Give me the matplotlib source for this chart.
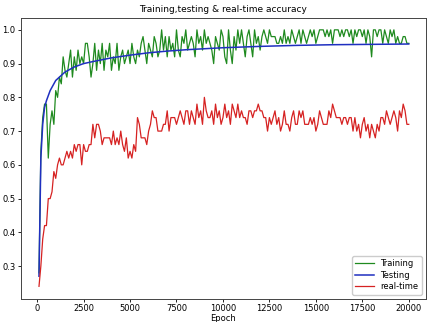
import matplotlib

matplotlib.use("Agg")
import matplotlib.pyplot as plt
import numpy as np

# epochs every 100 for the noisy curves
epochs = np.arange(100, 20001, 100)

train_acc = [
    0.28, 0.64, 0.74, 0.78, 0.78, 0.62, 0.72, 0.76, 0.72, 0.82,
    0.80, 0.86, 0.84, 0.92, 0.88, 0.86, 0.90, 0.94, 0.86, 0.92,
    0.88, 0.94, 0.90, 0.92, 0.90, 0.96, 0.96, 0.92, 0.86, 0.90,
    0.96, 0.88, 0.94, 0.90, 0.96, 0.88, 0.94, 0.92, 0.96, 0.88,
    0.92, 0.90, 0.96, 0.88, 0.92, 0.94, 0.90, 0.92, 0.94, 0.90,
    0.96, 0.92, 0.90, 0.94, 0.92, 0.96, 0.98, 0.94, 0.90, 0.96,
    0.94, 0.92, 0.98, 0.96, 0.92, 0.94, 1.00, 0.94, 0.98, 0.92,
    0.98, 0.94, 0.96, 0.92, 1.00, 0.94, 0.92, 0.98, 0.96, 1.00,
    0.94, 0.96, 0.98, 0.96, 0.92, 1.00, 0.96, 0.98, 0.94, 1.00,
    0.96, 0.98, 0.96, 0.94, 0.90, 0.98, 0.96, 0.94, 1.00, 0.98,
    0.92, 0.90, 1.00, 0.94, 0.90, 0.98, 0.94, 1.00, 0.96, 1.00,
    0.96, 0.92, 0.98, 1.00, 0.96, 0.92, 1.00, 0.96, 0.98, 0.94,
    0.98, 1.00, 0.98, 0.96, 1.00, 0.98, 0.98, 0.98, 0.96, 0.96,
    0.98, 0.96, 1.00, 0.96, 0.98, 0.96, 1.00, 0.98, 0.96, 0.98,
    1.00, 0.96, 1.00, 0.98, 0.96, 0.98, 1.00, 0.98, 1.00, 0.96,
    0.98, 1.00, 1.00, 1.00, 0.98, 1.00, 0.98, 1.00, 0.96, 1.00,
    1.00, 1.00, 0.98, 1.00, 0.98, 1.00, 1.00, 0.98, 1.00, 0.96,
    1.00, 0.98, 1.00, 1.00, 0.98, 1.00, 0.96, 1.00, 0.98, 0.92,
    1.00, 1.00, 0.98, 1.00, 1.00, 0.96, 1.00, 0.98, 0.96, 1.00,
    0.98, 1.00, 0.96, 0.98, 0.96, 0.96, 0.98, 0.98, 0.96, 0.96,
]

realtime_acc = [
    0.24, 0.30, 0.38, 0.42, 0.42, 0.50, 0.50, 0.52, 0.58, 0.56,
    0.60, 0.62, 0.60, 0.60, 0.62, 0.64, 0.62, 0.64, 0.62, 0.66,
    0.64, 0.66, 0.66, 0.60, 0.66, 0.64, 0.64, 0.66, 0.66, 0.72,
    0.68, 0.72, 0.72, 0.70, 0.66, 0.68, 0.68, 0.68, 0.68, 0.66,
    0.70, 0.66, 0.68, 0.66, 0.70, 0.66, 0.64, 0.68, 0.62, 0.64,
    0.62, 0.66, 0.64, 0.74, 0.72, 0.68, 0.68, 0.68, 0.66, 0.70,
    0.72, 0.76, 0.74, 0.74, 0.70, 0.70, 0.70, 0.72, 0.72, 0.76,
    0.70, 0.74, 0.74, 0.74, 0.72, 0.74, 0.76, 0.74, 0.72, 0.76,
    0.76, 0.72, 0.76, 0.74, 0.72, 0.78, 0.74, 0.76, 0.72, 0.80,
    0.76, 0.74, 0.74, 0.76, 0.72, 0.78, 0.74, 0.76, 0.72, 0.74,
    0.78, 0.74, 0.76, 0.72, 0.78, 0.76, 0.74, 0.78, 0.74, 0.76,
    0.74, 0.74, 0.72, 0.76, 0.76, 0.74, 0.76, 0.76, 0.78, 0.76,
    0.76, 0.74, 0.74, 0.70, 0.74, 0.72, 0.74, 0.76, 0.72, 0.74,
    0.70, 0.72, 0.76, 0.72, 0.72, 0.70, 0.74, 0.76, 0.72, 0.72,
    0.76, 0.74, 0.76, 0.72, 0.72, 0.72, 0.74, 0.72, 0.74, 0.70,
    0.72, 0.76, 0.74, 0.72, 0.72, 0.72, 0.76, 0.74, 0.78, 0.76,
    0.74, 0.74, 0.74, 0.72, 0.74, 0.74, 0.72, 0.74, 0.74, 0.70,
    0.74, 0.70, 0.72, 0.68, 0.72, 0.74, 0.70, 0.72, 0.68, 0.72,
    0.70, 0.68, 0.72, 0.70, 0.74, 0.74, 0.72, 0.76, 0.74, 0.72,
    0.74, 0.76, 0.74, 0.70, 0.76, 0.74, 0.78, 0.76, 0.72, 0.72,
]

# testing curve is smooth, read at fewer epochs
test_epochs = [100, 200, 300, 400, 500, 700, 1000, 1500, 2000, 2500, 3000,
               4000, 5000, 6000, 7000, 8000, 9000, 10000, 12000, 14000,
               16000, 18000, 20000]
test_acc = [0.27, 0.62, 0.72, 0.77, 0.79, 0.82, 0.85, 0.875, 0.89, 0.90,
            0.906, 0.917, 0.925, 0.932, 0.937, 0.941, 0.944, 0.947, 0.951,
            0.954, 0.956, 0.957, 0.958]

FS = 6

fig = plt.figure(figsize=(4.28, 3.22), dpi=100)
ax = fig.add_axes([0.049, 0.072, 0.946, 0.872])

ax.plot(epochs, train_acc, color="#1f8a1f", lw=0.9, label="Training")
ax.plot(test_epochs, test_acc, color="#1f2fc0", lw=1.1, label="Testing")
ax.plot(epochs, realtime_acc, color="#d62222", lw=0.9, label="real-time")

ax.set_xlim(-870, 20920)
ax.set_ylim(0.203, 1.035)
ax.set_xticks(np.arange(0, 20001, 2500))
ax.set_yticks([0.3, 0.4, 0.5, 0.6, 0.7, 0.8, 0.9, 1.0])
ax.tick_params(labelsize=FS, length=2.5, width=0.6, pad=1.5)
for s in ax.spines.values():
    s.set_linewidth(0.7)
    s.set_color("#444444")

ax.set_title("Training,testing & real-time accuracy", fontsize=FS + 0.5, pad=4)
ax.set_xlabel("Epoch", fontsize=FS, labelpad=0.5)
ax.legend(loc="lower right", fontsize=FS, handlelength=2.2, borderpad=0.4,
          labelspacing=0.3, framealpha=1)

fig.savefig("out.png", dpi=100)
